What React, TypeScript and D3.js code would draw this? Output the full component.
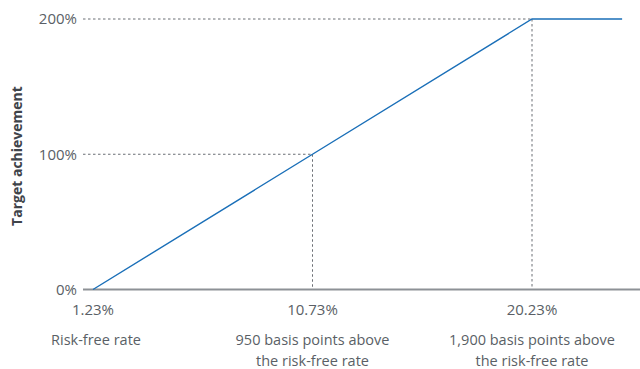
import React from "react";
import * as d3 from "d3";

const xTicks = [1.23, 10.73, 20.23];
const xTickLabels = ["1.23%", "10.73%", "20.23%"];
const xCategoryLines = [
  ["Risk-free rate"],
  ["950 basis points above", "the risk-free rate"],
  ["1,900 basis points above", "the risk-free rate"],
];
const yTicks = [0, 100, 200];
const yTickLabels = ["0%", "100%", "200%"];
const lineX = [1.23, 10.73, 20.23, 24.13];
const lineY = [0, 100, 200, 200];
const guideX = [10.73, 20.23];
const guideY = [100, 200];

const W = 640;
const H = 369;

export default function App() {
  const x = d3.scaleLinear().domain([1.23, 20.23]).range([93, 532]);
  const y = d3.scaleLinear().domain([0, 200]).range([289.5, 19]);
  const xAxisStart = x(1.23) - 10;
  const pts: [number, number][] = lineX.map((v, i) => [x(v), y(lineY[i])]);
  const line = d3.line();
  const font = "'Open Sans', 'Noto Sans', sans-serif";
  const textColor = "#5a5f66";
  return (
    <svg width={W} height={H} style={{ position: "absolute", left: 0, top: 0 }} fontFamily={font}>
      {guideX.map((gx, i) => (
        <g key={i}>
          <line x1={xAxisStart} x2={x(gx)} y1={y(guideY[i])} y2={y(guideY[i])} stroke="#6b6f75" strokeWidth={1} strokeDasharray="2.5,2.5" />
          <line x1={x(gx)} x2={x(gx)} y1={y(guideY[i])} y2={y(0)} stroke="#6b6f75" strokeWidth={1} strokeDasharray="2.5,2.5" />
        </g>
      ))}
      <line x1={xAxisStart} x2={W} y1={y(0)} y2={y(0)} stroke="#8d9196" strokeWidth={1.8} />
      <path d={line(pts) || ""} fill="none" stroke="#1a6fb8" strokeWidth={1.4} />
      {yTicks.map((t, i) => (
        <text key={i} x={77} y={y(t)} dy="0.35em" textAnchor="end" fontSize={15} fill={textColor}>
          {yTickLabels[i]}
        </text>
      ))}
      {xTicks.map((t, i) => (
        <text key={i} x={x(t)} y={315} textAnchor="middle" fontSize={15} fill={textColor}>
          {xTickLabels[i]}
        </text>
      ))}
      {xCategoryLines.map((lines, i) =>
        lines.map((s, j) => (
          <text key={i + "-" + j} x={i === 0 ? x(xTicks[i]) + 3 : x(xTicks[i])} y={345 + j * 21} textAnchor="middle" fontSize={14.5} fill={textColor}>
            {s}
          </text>
        ))
      )}
      <text transform={`translate(22,156) rotate(-90)`} textAnchor="middle" fontSize={14} fontWeight="bold" fill="#3f444a">
        Target achievement
      </text>
    </svg>
  );
}
